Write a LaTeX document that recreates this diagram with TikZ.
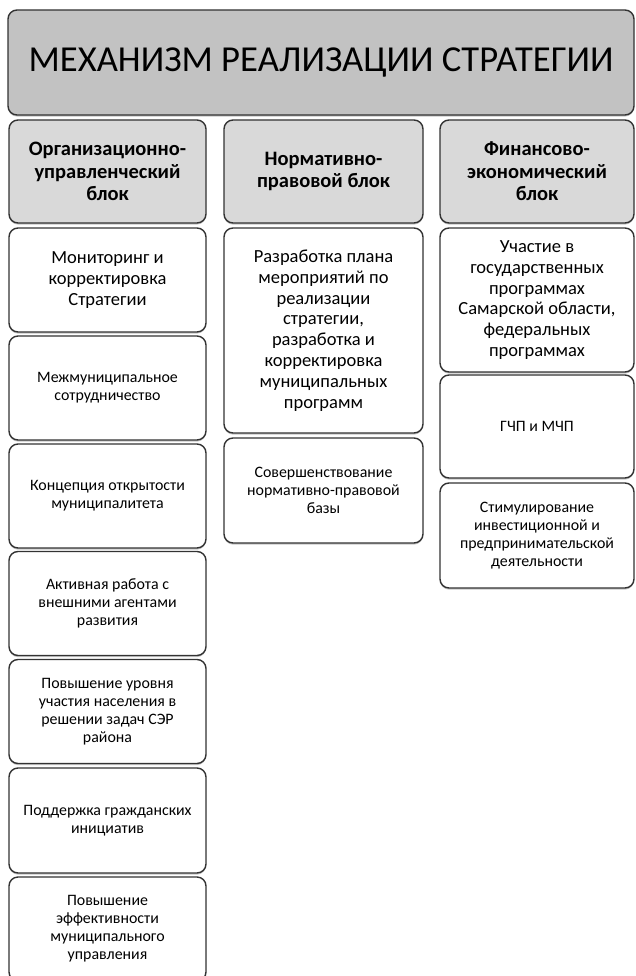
\documentclass[tikz,border=0pt]{standalone}
\usepackage{fontspec}
\setmainfont{Carlito}
\usepackage{tikz}
\usetikzlibrary{shadows}

\begin{document}
\begin{tikzpicture}[
  x=1pt, y=-1pt,
  font=\fontsize{15.9}{18}\selectfont,
  base/.style={draw=black!80, line width=1.4pt, rounded corners=9pt,
    align=center, inner sep=2pt,
    drop shadow={shadow xshift=0pt, shadow yshift=-1.6pt, opacity=0.45}},
  titlebox/.style={base, fill=black!24, minimum width=626pt,
    minimum height=105pt, font=\fontsize{36.6}{40}\selectfont},
  head/.style={base, fill=black!15, minimum height=103pt,
    font=\bfseries\fontsize{20.5}{22.5}\selectfont},
  item/.style={base, fill=white, minimum height=104pt},
  big/.style={font=\fontsize{18.5}{20.8}\selectfont},
  leftcol/.style={item, minimum width=197pt},
  midcol/.style={item, minimum width=199pt},
  rightcol/.style={item, minimum width=194pt},
]
  \useasboundingbox (0,0) rectangle (635,976);

  \node[titlebox] (title) at (321,62.5)
    {МЕХАНИЗМ РЕАЛИЗАЦИИ СТРАТЕГИИ};

  \node[head, minimum width=197pt] (org) at (107.5,171.5)
    {Организационно-\\управленческий\\блок};
  \node[head, minimum width=199pt] (norm) at (323.5,171.5)
    {Нормативно-\\правовой блок};
  \node[head, minimum width=194pt] (fin) at (537,171.5)
    {Финансово-\\экономический\\блок};

  % left column
  \node[leftcol, big] (monit) at (107.5,280)
    {Мониторинг и\\корректировка\\Стратегии};
  \node[leftcol] (mezhmun) at (107.5,388)
    {Межмуниципальное\\сотрудничество};
  \node[leftcol] (otkryt) at (107.5,496)
    {Концепция открытости\\муниципалитета};
  \node[leftcol] (agent) at (107.5,603.5)
    {Активная работа с\\внешними агентами\\развития};
  \node[leftcol] (nasel) at (107.5,711.5)
    {Повышение уровня\\участия населения в\\решении задач СЭР\\района};
  \node[leftcol, minimum height=105pt] (grazhd) at (107.5,820.5)
    {Поддержка гражданских\\инициатив};
  \node[leftcol] (effekt) at (107.5,929)
    {Повышение\\эффективности\\муниципального\\управления};

  % middle column
  \node[midcol, big, minimum height=205pt] (plan) at (323.5,330.5)
    {Разработка плана\\мероприятий по\\реализации\\стратегии,\\разработка и\\корректировка\\муниципальных\\программ};
  \node[midcol, minimum height=105pt] (baza) at (323.5,490.5)
    {Совершенствование\\нормативно-правовой\\базы};

  % right column
  \node[rightcol, big, minimum height=144pt] (gosprog) at (537,300)
    {Участие в\\государственных\\программах\\Самарской области,\\федеральных\\программах};
  \node[rightcol, minimum height=103pt] (gchp) at (537,426.5)
    {ГЧП и МЧП};
  \node[rightcol, minimum height=105pt] (invest) at (537,535.5)
    {Стимулирование\\инвестиционной и\\предпринимательской\\деятельности};
\end{tikzpicture}
\end{document}
